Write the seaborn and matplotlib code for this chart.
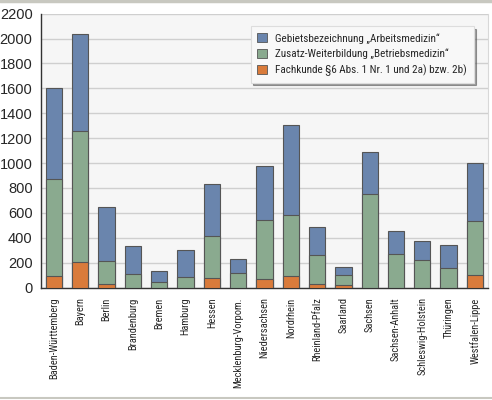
import matplotlib
matplotlib.use("Agg")
import matplotlib.pyplot as plt
import seaborn as sns
import pandas as pd
from matplotlib.lines import Line2D
from matplotlib import font_manager as fm

laender = ["Baden-Württemberg", "Bayern", "Berlin", "Brandenburg", "Bremen",
           "Hamburg", "Hessen", "Mecklenburg-Vorpom.", "Niedersachsen",
           "Nordrhein", "Rheinland-Pfalz", "Saarland", "Sachsen",
           "Sachsen-Anhalt", "Schleswig-Holstein", "Thüringen", "Westfalen-Lippe"]

# segment values (stacked: Fachkunde bottom, Zusatz middle, Gebiet top)
fachkunde = [91, 203, 29, 0, 0, 0, 75, 0, 67, 96, 32, 19, 0, 0, 0, 0, 99]
zusatz = [784, 1057, 182, 112, 48, 88, 342, 118, 474, 490, 233, 80, 755, 268, 219, 155, 439]
gebiet = [725, 780, 437, 220, 83, 217, 413, 115, 438, 723, 225, 64, 337, 190, 156, 188, 460]

labels = ["Gebietsbezeichnung \u201eArbeitsmedizin\u201c",
          "Zusatz-Weiterbildung \u201eBetriebsmedizin\u201c",
          "Fachkunde \u00a76 Abs. 1 Nr. 1 und 2a) bzw. 2b)"]
colors = ["#6a85ad", "#8aaa8f", "#d97b3b"]

df = pd.DataFrame({"Land": laender, "f": fachkunde, "z": zusatz, "g": gebiet})
df["top_f"] = df["f"]
df["top_z"] = df["f"] + df["z"]
df["top_g"] = df["top_z"] + df["g"]

# pick a condensed font if one is around
narrow = None
for name in ["Roboto Condensed", "Liberation Sans Narrow", "Open Sans Condensed",
             "PT Sans Narrow", "Archivo Narrow", "Fira Sans Condensed",
             "Encode Sans Condensed", "Barlow Semi Condensed"]:
    try:
        fm.findfont(fm.FontProperties(family=name), fallback_to_default=False)
        narrow = name
        break
    except Exception:
        pass

sns.set_style("white")
if narrow:
    plt.rcParams["font.family"] = [narrow, "DejaVu Sans"]
    xfs, lfs = 7.5, 8
else:
    plt.rcParams["font.family"] = ["Liberation Sans", "DejaVu Sans"]
    xfs, lfs = 6.3, 6.8

fig = plt.figure(figsize=(4.92, 4.0), dpi=100)
ax = fig.add_axes([0.083, 0.281, 0.909, 0.685])
ax.set_facecolor("#f6f6f6")

for col, c in zip(["top_g", "top_z", "top_f"], colors):
    sns.barplot(data=df, x="Land", y=col, color=c, width=0.62,
                edgecolor="#555555", linewidth=0.8, saturation=1, ax=ax, zorder=3)

ax.set_ylim(0, 2200)
ax.set_xlim(-0.5, len(laender) - 0.5)
ax.set_yticks(range(0, 2201, 200))
ax.yaxis.grid(True, color="#cfcfcf", linewidth=1, zorder=0)
ax.set_axisbelow(True)
ax.set_xlabel("")
ax.set_ylabel("")

ax.set_xticks(range(len(laender)))
ax.set_xticklabels(laender, rotation=90, fontsize=xfs)
ax.tick_params(axis="x", length=0, pad=7)
ax.set_xticks([i - 0.5 for i in range(len(laender))], minor=True)
ax.tick_params(axis="x", which="minor", length=5, width=1, color="#333333")
ax.tick_params(axis="y", length=4, width=1, color="#333333", pad=2)
for t in ax.get_yticklabels():
    t.set_family(["Liberation Sans", "DejaVu Sans"])
    t.set_fontsize(10.5)

for s in ["top", "right"]:
    ax.spines[s].set_visible(False)
for s in ["left", "bottom"]:
    ax.spines[s].set_color("#333333")
    ax.spines[s].set_linewidth(1)
ax.spines["right"].set_visible(True)
ax.spines["right"].set_color("#d8d8d8")

handles = [plt.Rectangle((0, 0), 1, 1, facecolor=c, edgecolor="#555555", linewidth=0.6)
           for c in colors]
leg = ax.legend(handles, labels, loc="upper right", bbox_to_anchor=(0.98, 0.974),
                fontsize=lfs, frameon=True, fancybox=False, shadow=True,
                handlelength=0.9, handleheight=0.9, handletextpad=0.7,
                labelspacing=0.45, borderpad=0.6)
leg.get_frame().set_facecolor("#f8f8f8")
leg.get_frame().set_edgecolor("#dddddd")
leg.get_frame().set_linewidth(0.8)

fig.add_artist(Line2D([0, 1], [0.997, 0.997], color="#c8c8c0", linewidth=2.5))
fig.add_artist(Line2D([0, 1], [0.006, 0.006], color="#c8c8c0", linewidth=1.5))

fig.savefig("out.png", dpi=100)
